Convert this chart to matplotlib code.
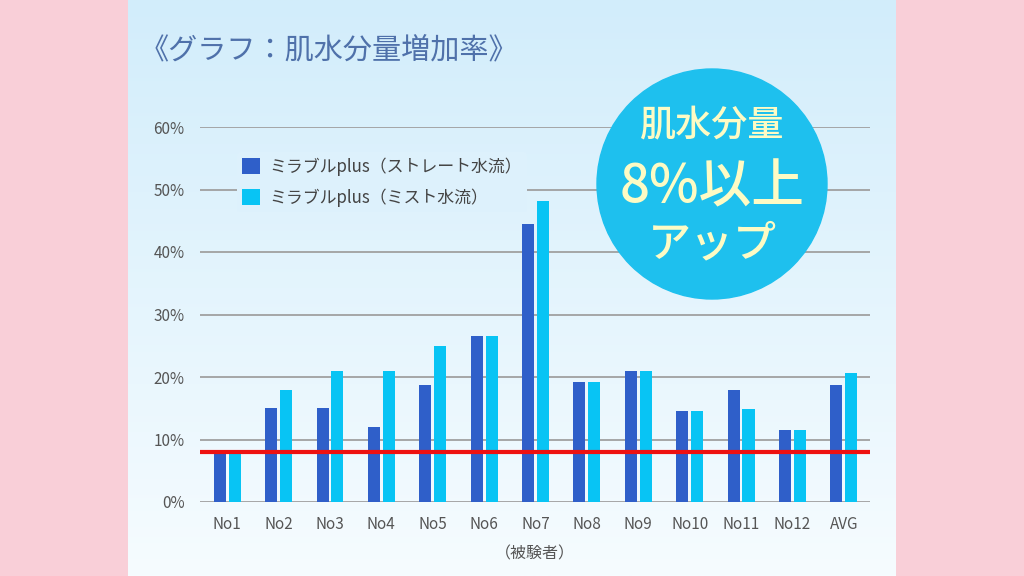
import numpy as np
import matplotlib
matplotlib.use("Agg")
import matplotlib.pyplot as plt
from matplotlib.patches import Circle

plt.rcParams['font.family'] = ['Noto Sans CJK JP', 'DejaVu Sans']

# データ（被験者ごとの肌水分量増加率 %）
subjects = ["No1", "No2", "No3", "No4", "No5", "No6", "No7",
            "No8", "No9", "No10", "No11", "No12", "AVG"]
straight = [7.8, 15.0, 15.0, 12.0, 18.7, 26.5, 44.5, 19.2, 21.0, 14.5, 18.0, 11.5, 18.7]
mist = [7.8, 18.0, 21.0, 21.0, 25.0, 26.5, 48.2, 19.2, 21.0, 14.5, 14.9, 11.5, 20.7]
threshold = 8.0
yticks = [0, 10, 20, 30, 40, 50, 60]

label_straight = "ミラブルplus（ストレート水流）"
label_mist = "ミラブルplus（ミスト水流）"

dark = "#2f5fc9"
light = "#08c4f4"

W, H = 1024, 576
fig = plt.figure(figsize=(W / 100, H / 100), dpi=100)
fig.patch.set_facecolor("#f9cfd8")

# 背景（中央パネルのグラデーション）
bg = fig.add_axes([0, 0, 1, 1], zorder=0)
bg.set_xlim(0, W)
bg.set_ylim(H, 0)
bg.axis("off")
grad = np.linspace(0, 1, 256).reshape(-1, 1)
top_c = np.array([0xd2, 0xed, 0xfb]) / 255
bot_c = np.array([0xf6, 0xfc, 0xff]) / 255
img = top_c + (bot_c - top_c) * grad[..., None]
bg.imshow(img, extent=[128, 896, H, 0], aspect="auto")

# グラフ本体
ax = fig.add_axes([200 / W, 74 / H, 670 / W, 375 / H], zorder=1)
ax.patch.set_alpha(0)
x = np.arange(len(subjects))
bw = 0.235
ax.bar(x - 0.145, straight, width=bw, color=dark, label=label_straight, zorder=3)
ax.bar(x + 0.145, mist, width=bw, color=light, label=label_mist, zorder=3)
ax.axhline(threshold, color="#ee1111", lw=3, zorder=4)

ax.set_xlim(-0.53, 12.51)
ax.set_ylim(0, 60)
ax.set_yticks(yticks)
ax.set_yticklabels([f"{v}%" for v in yticks])
ax.set_xticks(x)
ax.set_xticklabels(subjects)
ax.yaxis.grid(True, color="#a0a0a0", lw=1.3, zorder=1)
ax.set_axisbelow(True)
for s in ax.spines.values():
    s.set_visible(False)
ax.tick_params(axis="both", length=0, labelsize=11, colors="#555555")
ax.tick_params(axis="y", pad=11)
ax.tick_params(axis="x", pad=10)
ax.set_xlabel("（被験者）", fontsize=11.5, color="#555555", labelpad=9)

leg = ax.legend(loc="upper left", bbox_to_anchor=(0.043, 0.955), frameon=True,
                fontsize=12.2, handlelength=1.05, handleheight=1.05,
                handletextpad=0.55, labelspacing=0.75, borderpad=0.3)
leg.get_frame().set_facecolor("#ddf1fc")
leg.get_frame().set_edgecolor("none")
leg.get_frame().set_alpha(1)
leg.set_zorder(2)
for t in leg.get_texts():
    t.set_color("#444444")

# 上のレイヤー：タイトルと丸の吹き出し
ov = fig.add_axes([0, 0, 1, 1], zorder=5)
ov.set_xlim(0, W)
ov.set_ylim(H, 0)
ov.axis("off")
ov.patch.set_alpha(0)
ov.text(140, 50, "《グラフ：肌水分量増加率》", fontsize=21, color="#4f71aa",
        ha="left", va="center")
ov.add_patch(Circle((712, 184), 115, color="#1ec0ee", zorder=2))
cream = "#fdfbc4"
ov.text(712, 126, "肌水分量", fontsize=26, color=cream, ha="center", va="center",
        fontweight="medium", zorder=3)
ov.text(712, 187, "8%以上", fontsize=38, color=cream, ha="center", va="center",
        fontweight="medium", zorder=3)
ov.text(712, 244, "アップ", fontsize=31, color=cream, ha="center", va="center",
        fontweight="medium", zorder=3)

fig.savefig("out.png", dpi=100)
